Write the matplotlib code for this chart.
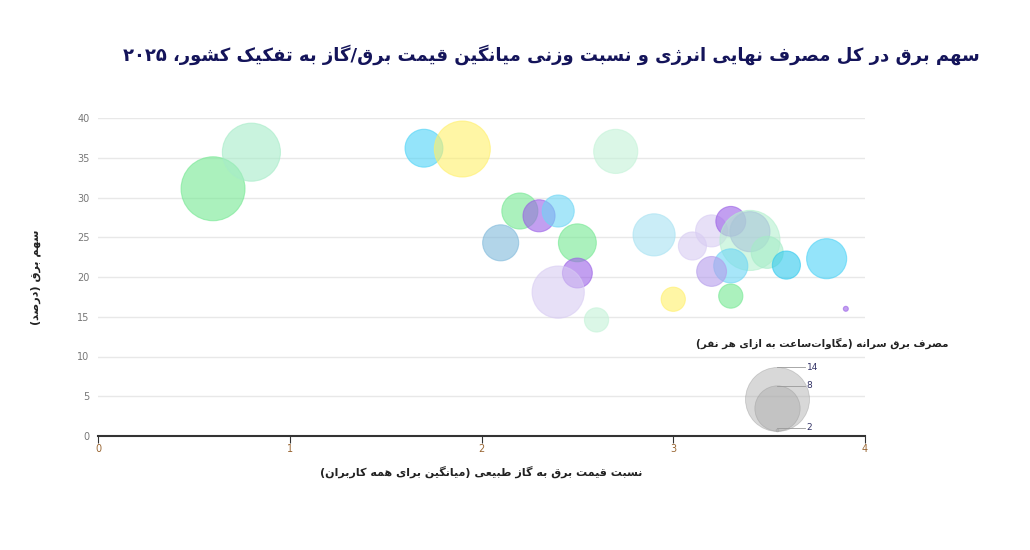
import numpy as np
import matplotlib
matplotlib.use("Agg")
import matplotlib.pyplot as plt

# ---------------- data ----------------
price_ratio = [0.60, 0.80, 1.70, 1.90, 2.70, 2.20, 2.30, 2.40, 2.10, 2.50, 2.50, 2.40, 2.60,
               2.90, 3.10, 3.20, 3.30, 3.40, 3.40, 3.49, 3.30, 3.20, 3.59, 3.80, 3.00, 3.30, 3.90]
elec_share = [31.1, 35.7, 36.2, 36.1, 35.8, 28.3, 27.7, 28.3, 24.3, 24.3, 20.5, 18.1, 14.6,
              25.3, 23.9, 25.8, 27.0, 24.6, 25.7, 23.1, 21.4, 20.7, 21.5, 22.3, 17.2, 17.6, 16.0]
per_capita = [14.0, 11.9, 6.2, 11.2, 7.7, 5.8, 5.0, 5.0, 5.8, 6.2, 4.6, 10.0, 3.7,
              7.2, 4.3, 5.0, 4.6, 12.6, 6.7, 5.0, 5.4, 4.6, 4.3, 6.7, 3.7, 3.7, 2.05]
colors = ["#74e892", "#a6ecc8", "#4dd3f7", "#fff06a", "#c4f3d8", "#74e892", "#9a5fe6", "#6dd6f5",
          "#7fb9db", "#74e892", "#9a5fe6", "#d8ccf3", "#c4f3d8",
          "#a8e2f2", "#d8ccf3", "#d8ccf3", "#9a5fe6", "#b5f0cf", "#a9c6d8", "#a6ecc8",
          "#6dd6f5", "#b49ceb", "#2fc9ee", "#4dd3f7", "#fff06a", "#74e892", "#9a5fe6"]
legend_values = [14, 8, 2]

title = "سهم برق در کل مصرف نهایی انرژی و نسبت وزنی میانگین قیمت برق/گاز به تفکیک کشور، ۲۰۲۵"
xlabel = "نسبت قیمت برق به گاز طبیعی (میانگین برای همه کاربران)"
ylabel = "سهم برق (درصد)"
legend_title = "مصرف برق سرانه (مگاوات\u200cساعت به ازای هر نفر)"

# ---------------- minimal Arabic shaping ----------------
F = {  # iso, fin, ini, med
 'ا': (0xFE8D, 0xFE8E, None, None), 'آ': (0xFE81, 0xFE82, None, None),
 'ب': (0xFE8F, 0xFE90, 0xFE91, 0xFE92), 'پ': (0xFB56, 0xFB57, 0xFB58, 0xFB59),
 'ت': (0xFE95, 0xFE96, 0xFE97, 0xFE98), 'ث': (0xFE99, 0xFE9A, 0xFE9B, 0xFE9C),
 'ج': (0xFE9D, 0xFE9E, 0xFE9F, 0xFEA0), 'چ': (0xFB7A, 0xFB7B, 0xFB7C, 0xFB7D),
 'ح': (0xFEA1, 0xFEA2, 0xFEA3, 0xFEA4), 'خ': (0xFEA5, 0xFEA6, 0xFEA7, 0xFEA8),
 'د': (0xFEA9, 0xFEAA, None, None), 'ذ': (0xFEAB, 0xFEAC, None, None),
 'ر': (0xFEAD, 0xFEAE, None, None), 'ز': (0xFEAF, 0xFEB0, None, None),
 'ژ': (0xFB8A, 0xFB8B, None, None),
 'س': (0xFEB1, 0xFEB2, 0xFEB3, 0xFEB4), 'ش': (0xFEB5, 0xFEB6, 0xFEB7, 0xFEB8),
 'ص': (0xFEB9, 0xFEBA, 0xFEBB, 0xFEBC), 'ض': (0xFEBD, 0xFEBE, 0xFEBF, 0xFEC0),
 'ط': (0xFEC1, 0xFEC2, 0xFEC3, 0xFEC4), 'ظ': (0xFEC5, 0xFEC6, 0xFEC7, 0xFEC8),
 'ع': (0xFEC9, 0xFECA, 0xFECB, 0xFECC), 'غ': (0xFECD, 0xFECE, 0xFECF, 0xFED0),
 'ف': (0xFED1, 0xFED2, 0xFED3, 0xFED4), 'ق': (0xFED5, 0xFED6, 0xFED7, 0xFED8),
 'ک': (0xFB8E, 0xFB8F, 0xFB90, 0xFB91), 'گ': (0xFB92, 0xFB93, 0xFB94, 0xFB95),
 'ل': (0xFEDD, 0xFEDE, 0xFEDF, 0xFEE0), 'م': (0xFEE1, 0xFEE2, 0xFEE3, 0xFEE4),
 'ن': (0xFEE5, 0xFEE6, 0xFEE7, 0xFEE8), 'ه': (0xFEE9, 0xFEEA, 0xFEEB, 0xFEEC),
 'و': (0xFEED, 0xFEEE, None, None), 'ی': (0xFBFC, 0xFBFD, 0xFBFE, 0xFBFF),
 'ئ': (0xFE89, 0xFE8A, 0xFE8B, 0xFE8C),
}

def shape(s):
    out = []
    n = len(s)
    for i, c in enumerate(s):
        if c == '\u200c':
            continue
        if c not in F:
            out.append(c)
            continue
        iso, fin, ini, med = F[c]
        p = s[i - 1] if i > 0 else ''
        nx = s[i + 1] if i + 1 < n else ''
        jp = p in F and F[p][2] is not None
        jn = ini is not None and nx in F
        if jp and jn:
            g = med
        elif jp:
            g = fin
        elif jn:
            g = ini
        else:
            g = iso
        out.append(chr(g))
    run = ''
    tokens = []
    for ch in out:
        if ch.isdigit():
            run += ch
        else:
            if run:
                tokens.append(run); run = ''
            tokens.append({'(': ')', ')': '('}.get(ch, ch))
    if run:
        tokens.append(run)
    return ''.join(tokens[::-1])

AR = ['DejaVu Sans']

# ---------------- figure ----------------
fig = plt.figure(figsize=(10.3, 5.5), dpi=100)
ax = fig.add_axes([98 / 1030, 1 - 436 / 550, (865 - 98) / 1030, (436 - 118) / 550])

def radius_px(z):
    return np.sqrt(85.0 * (np.asarray(z) - 2.0) + 2.0)

def s_of(z):
    r_pt = radius_px(z) * 72 / 100
    return (2 * r_pt) ** 2

ax.scatter(price_ratio, elec_share, s=s_of(per_capita), c=colors, alpha=0.6,
           edgecolors=colors, linewidths=0.8, zorder=3)

ax.set_xlim(0, 4)
ax.set_ylim(0, 40)
ax.set_yticks(np.arange(0, 41, 5))
ax.set_xticks([0, 1, 2, 3, 4])
ax.grid(axis='y', color='#e8e8e8', linewidth=1)
ax.set_axisbelow(True)
for sp in ['top', 'right', 'left']:
    ax.spines[sp].set_visible(False)
ax.spines['bottom'].set_color('#333333')
ax.spines['bottom'].set_linewidth(1.5)
ax.tick_params(axis='y', length=0, labelsize=7, labelcolor='#777777', pad=6)
ax.tick_params(axis='x', length=5, color='#333333', labelsize=7, labelcolor='#996633', pad=1)

ax.set_xlabel(shape(xlabel), family=AR, fontsize=8, fontweight='bold', color='#222222', labelpad=8)
ax.set_ylabel(shape(ylabel), family=AR, fontsize=8, fontweight='bold', color='#222222',
              rotation=90, labelpad=26)

fig.text(980 / 1030, 1 - 55 / 550, shape(title), family=AR, fontsize=13, fontweight='bold',
         color='#14145a', ha='right', va='center')

# ---------------- size legend ----------------
fig.text(948 / 1030, 1 - 343 / 550, shape(legend_title), family=AR, fontsize=7.5,
         fontweight='bold', color='#222222', ha='right', va='center')
cx = 3.54
bottom_px = 431
px_per_y = 318 / 40
px_per_x = 767 / 4
for v in legend_values:
    r = radius_px(v)
    cy = (436 - bottom_px + r) / px_per_y
    ax.scatter([cx], [cy], s=s_of(v), color='#aaaaaa', alpha=0.45, edgecolors='#999999',
               linewidths=0.6, zorder=4, clip_on=False)
    top_y = (436 - bottom_px + 2 * r) / px_per_y
    if v == 2:
        top_y = (436 - 428) / px_per_y
    ax.plot([cx, cx + 28 / px_per_x], [top_y, top_y], color='#999999', lw=0.6, zorder=4, clip_on=False)
    ax.text(cx + 30 / px_per_x, top_y, str(v), fontsize=6.5, color='#333366', va='center', ha='left')

fig.savefig("out.png", dpi=100, facecolor='white')
